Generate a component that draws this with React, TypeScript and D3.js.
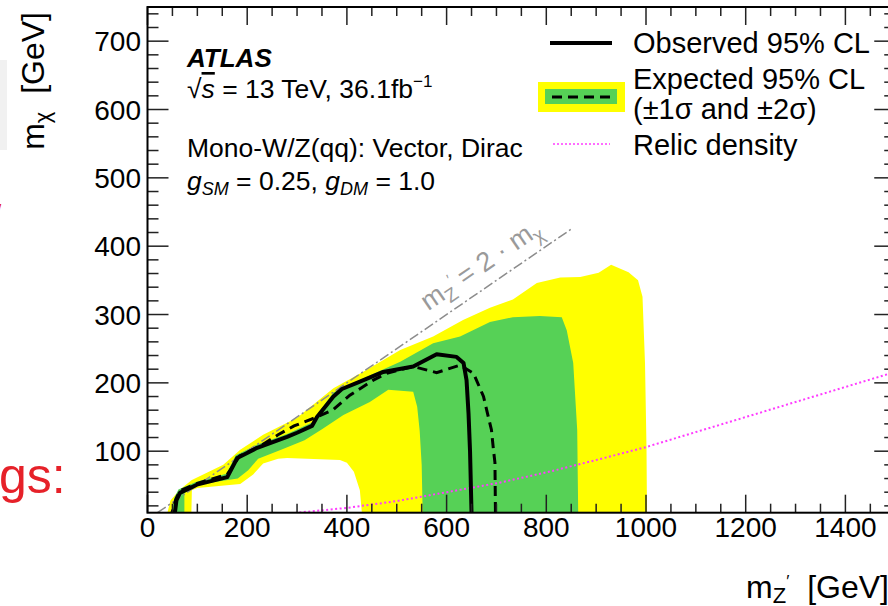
import React from 'react';
import * as d3 from 'd3';

// axis ticks
const xMajor = [0, 200, 400, 600, 800, 1000, 1200, 1400];
const yMajor = [100, 200, 300, 400, 500, 600, 700];
const xMinor = d3.range(0, 1501, 50);
const yMinor = d3.range(20, 751, 20);

// expected limit contours [mZ', mchi] in GeV
const plus2Sigma = [[40, 0], [40, 10], [46, 28], [65, 44], [89, 58], [152, 80], [186, 102], [232, 124], [300, 149], [373, 192], [440, 219], [507, 248], [573, 268], [633, 292], [687, 310], [733, 322], [781, 346], [828, 354], [868, 355], [905, 361], [930, 373], [965, 362], [984, 350], [993, 326], [998, 229], [1001, 106], [1002, 10], [1002, 0]];
const plus1Sigma = [[48, 0], [48, 10], [54, 32], [62, 44], [97, 55], [158, 67], [177, 94], [218, 109], [280, 125], [330, 142], [345, 158], [373, 186], [440, 209], [507, 231], [573, 258], [627, 268], [687, 289], [733, 296], [787, 298], [831, 296], [841, 277], [854, 229], [862, 131], [864, 10], [864, 0]];
const minus1Sigma = [[74, 0], [74, 10], [74, 38], [88, 49], [135, 55], [181, 60], [202, 72], [222, 89], [268, 102], [315, 116], [350, 132], [393, 153], [446, 172], [483, 190], [533, 187], [541, 165], [546, 130], [550, 80], [552, 10], [552, 0]];
const minus2Sigma = [[88, 0], [88, 10], [89, 43], [100, 46], [186, 52], [212, 66], [232, 82], [262, 89], [280, 90], [386, 87], [400, 83], [414, 70], [426, 43], [430, 10], [430, 0]];

const observed = [[55, 0], [55, 10], [58, 28], [65, 39], [99, 51], [160, 62], [180, 90], [220, 105], [280, 121], [300, 127], [330, 137], [340, 150], [373, 180], [390, 191], [420, 200], [473, 216], [533, 224], [580, 242], [620, 238], [634, 229], [640, 204], [644, 155], [647, 100], [650, 10], [650, 0]];
const expected = [[49, 0], [49, 10], [57, 30], [65, 42], [100, 53], [160, 66], [185, 93], [225, 107], [262, 124], [294, 137], [340, 150], [373, 161], [406, 182], [453, 204], [480, 214], [533, 224], [580, 215], [627, 226], [654, 214], [674, 180], [690, 131], [694, 102], [697, 83], [698, 10], [698, 0]];

const relic = [[260, 5], [300, 10], [400, 17], [500, 27], [600, 40], [700, 53], [800, 69], [900, 87], [1000, 106], [1100, 128], [1200, 150], [1300, 172], [1400, 194], [1500, 216]];
const diagonal = [[20, 10], [852, 426]];

const FONT = '"Liberation Sans", Arial, Helvetica, sans-serif';
const YELLOW = '#ffff00';
const GREEN = '#56d156';

export default function App() {
  const width = 888;
  const height = 606;

  const x = d3.scaleLinear().domain([0, 1500]).range([147.5, 895.25]);
  const y = d3.scaleLinear().domain([10, 750]).range([512.7, 7]);
  const [left, right] = x.range();
  const [bottom, top] = y.range();

  const line = d3.line<number[]>().x(d => x(d[0])).y(d => y(d[1]));
  const shape = (pts: number[][]) => line(pts) + 'Z';

  // label along the mZ' = 2 mchi line
  const ang = Math.atan2(y(diagonal[0][1]) - y(diagonal[1][1]), x(diagonal[1][0]) - x(diagonal[0][0]));
  const lx = x(578) - 13 * Math.sin(ang);
  const ly = y(289) - 13 * Math.cos(ang);

  return (
    <svg width={width} height={height} style={{ position: 'absolute', left: 0, top: 0, background: '#fff' }}
      fontFamily={FONT}>
      <defs>
        <clipPath id="plotArea">
          <rect x={left} y={top} width={right - left} height={bottom - top} />
        </clipPath>
      </defs>
      <rect width={width} height={height} fill="#fff" />

      {/* slide leftovers */}
      <rect x={0} y={60} width={7} height={90} fill="#f1f1f1" />
      <text x={-6} y={223} fontSize={26} fill="#e62129">/</text>
      <text x={-1} y={493} fontSize={50} fill="#e62129">gs:</text>

      <g clipPath="url(#plotArea)">
        <path d={shape(plus2Sigma)} fill={YELLOW} />
        <path d={shape(plus1Sigma)} fill={GREEN} />
        <path d={shape(minus1Sigma)} fill={YELLOW} />
        <path d={shape(minus2Sigma)} fill="#fff" />

        <path d={line(relic) ?? ''} fill="none" stroke="#ff3cff" strokeWidth={2} strokeDasharray="2,2.5" />
        <path d={line(diagonal) ?? ''} fill="none" stroke="#8c8c8c" strokeWidth={1.5} strokeDasharray="10,3,2,3" />
        <path d={line(expected) ?? ''} fill="none" stroke="#000" strokeWidth={3} strokeDasharray="10,6" />
        <path d={line(observed) ?? ''} fill="none" stroke="#000" strokeWidth={4} strokeLinejoin="round" />
      </g>

      <text transform={`translate(${lx},${ly}) rotate(${(-ang * 180) / Math.PI})`} fontSize={27} fill="#9a9a9a">
        m<tspan fontSize={19} dy={6}>Z</tspan><tspan fontSize={14} dy={-16}>′</tspan>
        <tspan dy={10}>{'\u00a0=\u00a02\u00a0·\u00a0m'}</tspan><tspan fontSize={19} dy={6}>χ</tspan>
      </text>

      {/* ticks */}
      <g stroke="#222" strokeWidth={1.5}>
        {xMinor.map(v => {
          const big = xMajor.includes(v);
          const l = big ? 18 : 9;
          return (
            <g key={'x' + v}>
              <line x1={x(v)} x2={x(v)} y1={bottom} y2={bottom - l} />
              <line x1={x(v)} x2={x(v)} y1={top} y2={top + l} />
            </g>
          );
        })}
        {yMinor.map(v => {
          const big = yMajor.includes(v);
          const l = big ? 21 : 11;
          return (
            <g key={'y' + v}>
              <line x1={left} x2={left + l} y1={y(v)} y2={y(v)} />
              <line x1={right} x2={right - l} y1={y(v)} y2={y(v)} />
            </g>
          );
        })}
      </g>
      <rect x={left} y={top} width={right - left} height={bottom - top} fill="none" stroke="#000" strokeWidth={2} />

      {/* tick labels */}
      {xMajor.map(v => (
        <text key={'xl' + v} x={x(v)} y={537} fontSize={28} textAnchor="middle">{v}</text>
      ))}
      {yMajor.map(v => (
        <text key={'yl' + v} x={141} y={y(v) + 10} fontSize={28} textAnchor="end">{v}</text>
      ))}

      {/* axis titles */}
      <text x={889} y={598} fontSize={32} textAnchor="end">
        m<tspan fontSize={22} dy={5}>Z</tspan><tspan fontSize={17} dy={-16}>′</tspan>
        <tspan dy={11}>{'\u00a0\u00a0[GeV]'}</tspan>
      </text>
      <text transform="translate(44,12) rotate(-90)" fontSize={32} textAnchor="end">
        m<tspan fontSize={22} dy={6}>χ</tspan><tspan dy={-6}>{'\u00a0\u00a0[GeV]'}</tspan>
      </text>

      {/* annotation */}
      <text x={187} y={67} fontSize={26} fontWeight="bold" fontStyle="italic">ATLAS</text>
      <text x={187} y={98} fontSize={26.5}>
        √<tspan fontStyle="italic" textDecoration="overline">s</tspan>{'\u00a0=\u00a013 TeV, 36.1fb'}
        <tspan fontSize={17} dy={-11}>−1</tspan>
      </text>
      <text x={187} y={157} fontSize={26.5}>Mono-W/Z(qq): Vector, Dirac</text>
      <text x={187} y={190} fontSize={26.5}>
        <tspan fontStyle="italic">g</tspan><tspan fontStyle="italic" fontSize={18} dy={5}>SM</tspan>
        <tspan dy={-5}>{'\u00a0= 0.25, '}</tspan>
        <tspan fontStyle="italic">g</tspan><tspan fontStyle="italic" fontSize={18} dy={5}>DM</tspan>
        <tspan dy={-5}>{'\u00a0= 1.0'}</tspan>
      </text>

      {/* legend */}
      <line x1={550} x2={612} y1={43} y2={43} stroke="#000" strokeWidth={4} />
      <rect x={538} y={82} width={87} height={30} fill={YELLOW} />
      <rect x={545} y={89} width={72} height={15} fill={GREEN} />
      <line x1={552} x2={612} y1={97} y2={97} stroke="#000" strokeWidth={3} strokeDasharray="10,6" />
      <line x1={553} x2={610} y1={144} y2={144} stroke="#ff3cff" strokeWidth={1.5} strokeDasharray="2,2" />
      <text x={633} y={53} fontSize={29}>Observed 95% CL</text>
      <text x={633} y={89} fontSize={29}>Expected 95% CL</text>
      <text x={633} y={119} fontSize={29}>(±1σ and ±2σ)</text>
      <text x={633} y={155} fontSize={29}>Relic density</text>
    </svg>
  );
}
